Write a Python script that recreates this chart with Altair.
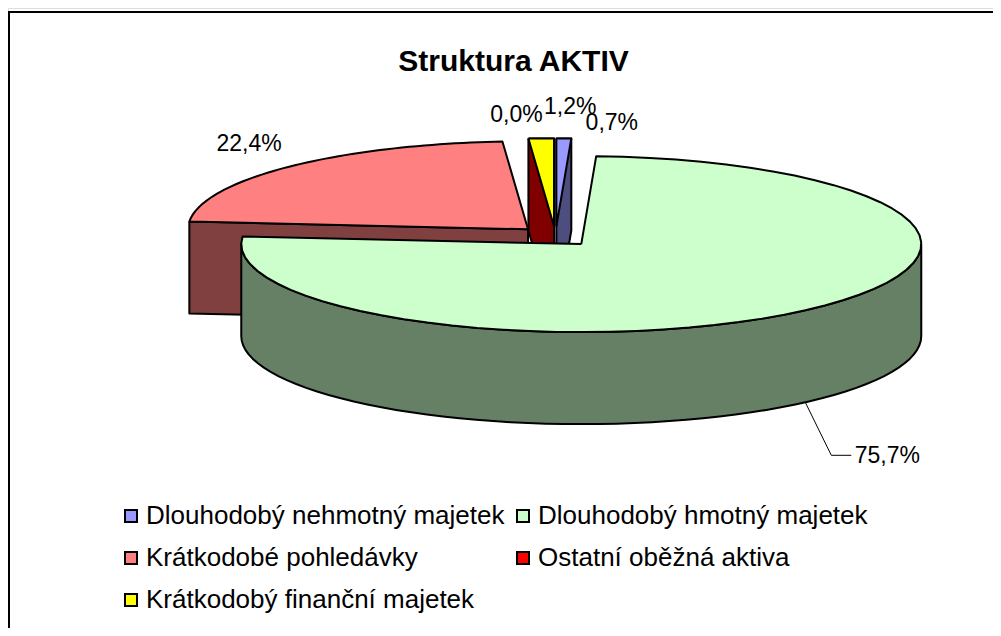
import math
import altair as alt
import pandas as pd

# Data
series = ["Dlouhodobý nehmotný majetek", "Dlouhodobý hmotný majetek", "Krátkodobé pohledávky",
          "Ostatní oběžná aktiva", "Krátkodobý finanční majetek"]
values = [0.7, 75.7, 22.4, 1.2, 0.0]
labels = ["0,7%", "75,7%", "22,4%", "1,2%", "0,0%"]
top_colors = ["#9999FF", "#CCFFCC", "#FF8080", "#FF0000", "#FFFF00"]
wall_colors = ["#4D4D80", "#668066", "#804040", "#800000", "#808000"]
legend_order = [0, 2, 4, 1, 3]  # the legend fills column by column
title = "Struktura AKTIV"

# Pie model (3D projection)
W, H = 985, 620
CX, CY, RX, RY, DEPTH, EXPLODE = 555.5, 236.5, 340.0, 88.0, 92.0, 0.115
FONT = "Liberation Sans"
X_SCALE = alt.Scale(domain=[8, 8 + W])
Y_SCALE = alt.Scale(domain=[8 + H, 8])


def rim(c, deg, drop=0.0):
    t = math.radians(deg)
    return (c[0] + RX * math.sin(t), c[1] - RY * math.cos(t) + drop)


def arc(c, a, b, drop=0.0, n=60):
    return [rim(c, a + (b - a) * i / n, drop) for i in range(n + 1)]


spans = []
start = 0.0
for v in values:
    spans.append((start, start + v * 3.6))
    start += v * 3.6
centers = []
for a, b in spans:
    m = math.radians((a + b) / 2)
    centers.append((CX + EXPLODE * RX * math.sin(m), CY - EXPLODE * RY * math.cos(m)))


def top_face(k):
    c = centers[k]
    return [c] + arc(c, *spans[k]) + [c]


def outer_wall(c, a, b):
    pts = arc(c, a, b) + arc(c, b, a, DEPTH)
    return pts + [pts[0]]


def radial_wall(c, a):
    p = rim(c, a)
    d = rim(c, a, DEPTH)
    return [p, c, (c[0], c[1] + DEPTH), d, p]


def slice_wall(k):
    c = centers[k]
    a, b = spans[k]
    return arc(c, a, b) + [rim(c, b, DEPTH), (c[0], c[1] + DEPTH), rim(c, a, DEPTH), rim(c, a)]


def poly(points, fill, sw=2.0):
    df = pd.DataFrame({"x": [p[0] for p in points], "y": [p[1] for p in points],
                       "i": list(range(len(points)))})
    return alt.Chart(df).mark_line(fill=fill, stroke="black", strokeWidth=sw, strokeJoin="round",
                                   clip=False).encode(
        x=alt.X("x:Q", scale=X_SCALE, axis=None),
        y=alt.Y("y:Q", scale=Y_SCALE, axis=None),
        order="i:Q")


layers = []
# frame
layers.append(alt.Chart(pd.DataFrame({"a": [0]})).mark_rule(color="black", strokeWidth=2).encode(
    x=alt.value(1), y=alt.value(4), y2=alt.value(H)))
layers.append(alt.Chart(pd.DataFrame({"a": [0]})).mark_rule(color="black", strokeWidth=2).encode(
    x=alt.value(0), x2=alt.value(W), y=alt.value(4)))

# back to front
layers.append(poly(radial_wall(centers[2], spans[2][0]), wall_colors[2]))
layers.append(poly(top_face(2), top_colors[2]))
layers.append(poly(slice_wall(3), wall_colors[3]))
layers.append(poly(top_face(3), top_colors[4]))  # the picture shows yellow on this wedge
layers.append(poly(slice_wall(0), wall_colors[0]))
layers.append(poly(top_face(0), top_colors[0]))
layers.append(poly(outer_wall(centers[1], 90, 270), wall_colors[1]))
layers.append(poly(top_face(1), top_colors[1]))

# leader line
g = rim(centers[1], sum(spans[1]) / 2, DEPTH)
leader = [g, (g[0] + 26, g[1] + 53), (g[0] + 46, g[1] + 53)]
df_lead = pd.DataFrame({"x": [p[0] for p in leader], "y": [p[1] for p in leader], "i": [0, 1, 2]})
layers.append(alt.Chart(df_lead).mark_line(color="black", strokeWidth=1).encode(
    x=alt.X("x:Q", scale=X_SCALE, axis=None),
    y=alt.Y("y:Q", scale=Y_SCALE, axis=None), order="i:Q"))

# data labels, placed from the rim at each slice's middle angle
label_dx = [48, 82, -40, 29, -39]
label_dy = [-15, 54, -23, -31, -23]
rows = []
for k in range(5):
    drop = DEPTH if k == 1 else 0.0
    p = rim(centers[k], sum(spans[k]) / 2, drop)
    rows.append({"x": p[0] + label_dx[k], "y": p[1] + label_dy[k], "t": labels[k]})
layers.append(alt.Chart(pd.DataFrame(rows)).mark_text(font=FONT, fontSize=23, color="black").encode(
    x=alt.X("x:Q", scale=X_SCALE, axis=None),
    y=alt.Y("y:Q", scale=Y_SCALE, axis=None), text="t:N"))

# legend
layers.append(alt.Chart(pd.DataFrame({"s": series})).mark_square(size=0).encode(
    fill=alt.Fill("s:N", scale=alt.Scale(domain=[series[i] for i in legend_order],
                                         range=[top_colors[i] for i in legend_order]),
                  legend=alt.Legend(title=None, orient="none", legendX=110, legendY=495, columns=2,
                                    symbolType="square", symbolSize=144, symbolStrokeColor="black",
                                    symbolStrokeWidth=2, symbolOpacity=1, labelFont=FONT,
                                    labelFontSize=26, labelColor="black", labelOffset=2,
                                    labelLimit=500, rowPadding=16, columnPadding=5))))

chart = alt.layer(*layers).resolve_scale(x="shared", y="shared").properties(
    width=W, height=H,
    padding=0,
    autosize=alt.AutoSizeParams(type="none"),
    title=alt.TitleParams(title, font=FONT, fontSize=30, fontWeight="bold", color="black",
                          anchor="middle", dx=13, offset=-69),
).configure_view(stroke=None).configure(background="white")

chart.save("out.html", embed_options={"renderer": "svg", "actions": False})
